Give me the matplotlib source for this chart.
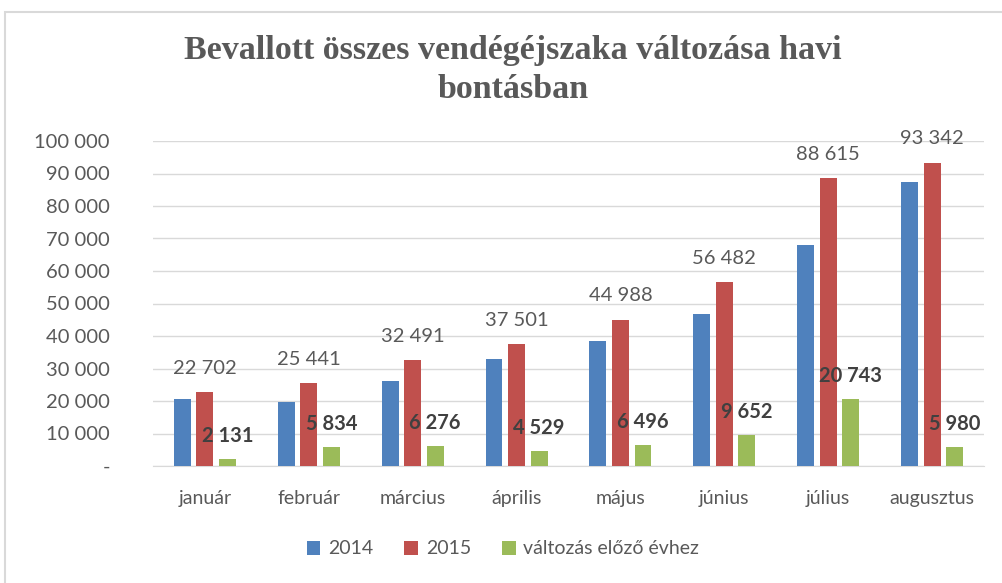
import matplotlib
matplotlib.use("Agg")
import matplotlib.pyplot as plt
from matplotlib.patches import Rectangle
import numpy as np

months = ["január", "február", "március", "április", "május", "június", "július", "augusztus"]
v2015 = [22702, 25441, 32491, 37501, 44988, 56482, 88615, 93342]
change = [2131, 5834, 6276, 4529, 6496, 9652, 20743, 5980]
v2014 = [20571, 19607, 26215, 32972, 38492, 46830, 67872, 87362]
yticks = [0, 10000, 20000, 30000, 40000, 50000, 60000, 70000, 80000, 90000, 100000]

def fmt(v):
    return "-" if v == 0 else f"{v:,}".replace(",", " ")

C_BLUE = "#4F81BD"
C_RED = "#C0504D"
C_GREEN = "#9BBB59"
TXT = "#595959"
FONT = "Lato"

fig = plt.figure(figsize=(10.03, 5.83), dpi=100)
W, H = 1003, 583
fig.patches.append(Rectangle((5 / W, -0.1), 1.2, 1 - 12 / H + 0.1, transform=fig.transFigure,
                             fill=False, edgecolor="#D9D9D9", linewidth=1.5))

ax = fig.add_axes([153 / W, 1 - 466 / H, (984 - 153) / W, (466 - 141) / H])
x = np.arange(len(months))
bw = 0.163
step = 0.217
ax.bar(x - step, v2014, bw, color=C_BLUE, label="2014", zorder=3)
ax.bar(x, v2015, bw, color=C_RED, label="2015", zorder=3)
ax.bar(x + step, change, bw, color=C_GREEN, label="változás előző évhez", zorder=3)

for xi, v in zip(x, v2015):
    ax.annotate(fmt(v), (xi, v), xytext=(0, 24), textcoords="offset pixels",
                ha="center", va="center", fontsize=14.5, color=TXT, family=FONT)
for xi, v in zip(x, change):
    ax.annotate(fmt(v), (xi + step, v), xytext=(0, 23), textcoords="offset pixels",
                ha="center", va="center", fontsize=14.5, color="#404040", family=FONT,
                fontweight="bold")

ax.set_xlim(-0.5, len(months) - 0.5)
ax.set_ylim(0, 100000)
ax.set_yticks(yticks)
ax.set_yticklabels([fmt(v) for v in yticks], fontsize=14.5, color=TXT, family=FONT)
ax.set_xticks(x)
ax.set_xticklabels(months, fontsize=14, color=TXT, family=FONT)
ax.tick_params(axis="both", length=0)
ax.tick_params(axis="y", pad=31)
ax.tick_params(axis="x", pad=17)
for lab in ax.get_yticklabels():
    lab.set_horizontalalignment("right")
ax.grid(axis="y", color="#D9D9D9", linewidth=1, zorder=0)
for s in ["top", "right", "left"]:
    ax.spines[s].set_visible(False)
ax.spines["bottom"].set_color("#D9D9D9")

fig.text(513 / W, 1 - 70 / H, "Bevallott összes vendégéjszaka változása havi\nbontásban",
         ha="center", va="center", fontsize=24.5, fontweight="bold", color=TXT,
         family="Liberation Serif", linespacing=1.3)

leg = fig.legend(loc="center", bbox_to_anchor=(503 / W, 1 - 549 / H), ncol=3, frameon=False,
                 prop={"family": FONT, "size": 14}, handlelength=0.7, handleheight=0.7,
                 handletextpad=0.4, columnspacing=1.6)
for t in leg.get_texts():
    t.set_color(TXT)

fig.savefig("out.png", dpi=100)
